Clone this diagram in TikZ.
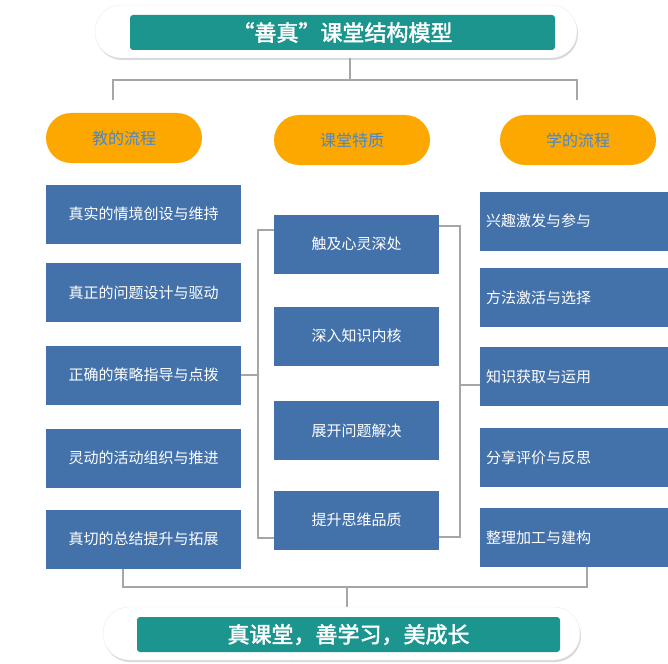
\documentclass[tikz,border=0pt]{standalone}
\usepackage{fontspec}
\setmainfont{Noto Sans CJK SC}
\newfontfamily\cjkb[FakeBold=2]{Noto Sans CJK SC}
\usetikzlibrary{shadows}
\definecolor{bx}{HTML}{4371AA}
\definecolor{tl}{HTML}{1C958F}
\definecolor{org}{HTML}{FCA800}
\definecolor{otx}{HTML}{4A86C8}
\tikzset{
 bbox/.style={fill=bx,inner sep=0,text=white,font=\fontsize{15pt}{16pt}\selectfont},
 opill/.style={fill=org,rounded corners=25,inner sep=0,text=otx,font=\fontsize{16pt}{17pt}\selectfont},
 wpill/.style={fill=white,draw=black!8,rounded corners=26,drop shadow={shadow xshift=1pt,shadow yshift=-2pt,fill=black!30}},
 tbar/.style={fill=tl,rounded corners=3,inner sep=0,text=white,font=\cjkb\fontsize{22pt}{23pt}\selectfont},
 conn/.style={draw=black!35,line width=2.2pt},
}
\begin{document}
\begin{tikzpicture}[x=1pt,y=-1pt]
\useasboundingbox (0,0) rectangle (668,663);
% top
\fill[wpill] (95,5) rectangle (577,58);
\node[tbar,minimum width=425,minimum height=35] (title) at (342.5,32.5) {“善真”课堂结构模型};
\coordinate (t0) at (350,58);
\coordinate (tl) at (113,100);
\coordinate (tr) at (577,100);
\draw[conn] (t0) -- (350,80) -- (113,80) -- (tl);
\draw[conn] (350,80) -- (577,80) -- (tr);
% pills
\node[opill,minimum width=156,minimum height=50] (p1) at (124,138) {教的流程};
\node[opill,minimum width=156,minimum height=50] (p2) at (352,140) {课堂特质};
\node[opill,minimum width=156,minimum height=50] (p3) at (578,140) {学的流程};
% left
\foreach \n/\y/\t in {l1/214/真实的情境创设与维持,l2/292.5/真正的问题设计与驱动,l3/375/正确的策略指导与点拨,l4/458/灵动的活动组织与推进,l5/539/真切的总结提升与拓展}
  \node[bbox,minimum width=195,minimum height=59] (\n) at (143.5,\y) {\t};
% middle
\foreach \n/\y/\t in {m1/244/触及心灵深处,m2/336/深入知识内核,m3/430.5/展开问题解决,m4/520/提升思维品质}
  \node[bbox,minimum width=165,minimum height=59] (\n) at (356.5,\y) {\t};
% right
\foreach \n/\y/\t in {r1/221/兴趣激发与参与,r2/297.5/方法激活与选择,r3/376.5/知识获取与运用,r4/457.5/分享评价与反思,r5/537.5/整理加工与建构}
  \node[bbox,minimum width=188,minimum height=59,text width=176,align=left] (\n) at (574,\y) {\t};
% brackets
\draw[conn] (m1.west|-0,230) -- (258,230) -- (258,538) -- (m4.west|-0,538);
\draw[conn] (l3.east) -- (258,375);
\draw[conn] (m1.east|-0,226) -- (460,226) -- (460,537) -- (m4.east|-0,537);
\draw[conn] (460,385) -- (r3.west|-0,385);
% bottom
\draw[conn] (l5.south-|123,0) -- (123,587) -- (587,587) -- (r5.south-|587,0);
\draw[conn] (347,587) -- (347,607);
\fill[wpill] (103,607) rectangle (580,660);
\node[tbar,minimum width=423,minimum height=35] (motto) at (348.5,634.5) {真课堂，善学习，美成长};
\end{tikzpicture}
\end{document}
